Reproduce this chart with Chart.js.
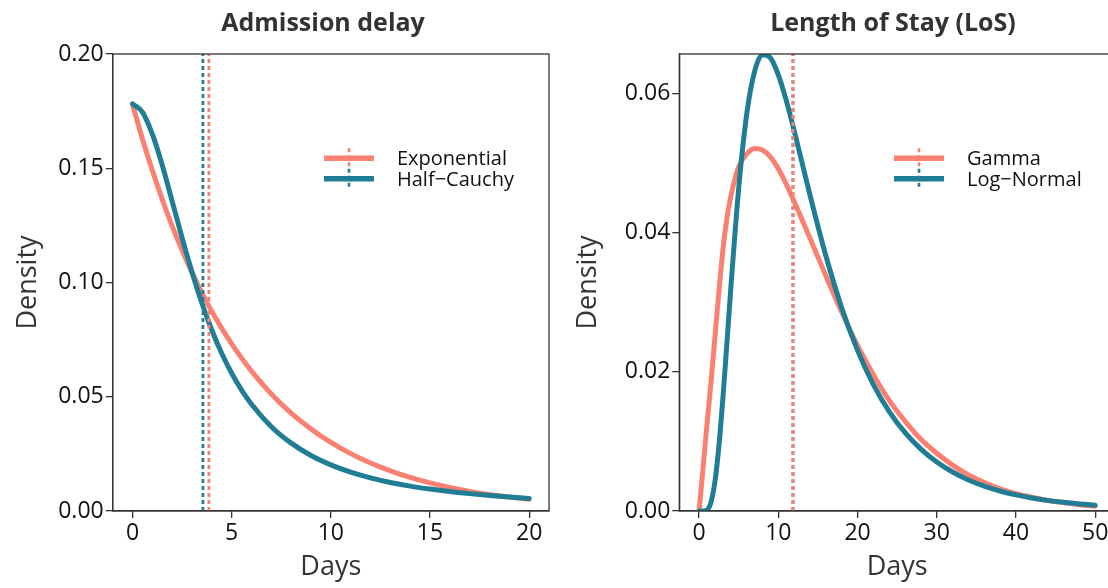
<!DOCTYPE html>
<html>
<head>
<meta charset="utf-8">
<script src="https://cdn.jsdelivr.net/npm/chart.js@4.4.0/dist/chart.umd.min.js"></script>
<style>
  html, body { margin: 0; padding: 0; background: #fff; overflow: hidden; width: 1108px; height: 588px; }
  .panel { position: absolute; top: 0; }
  #left { left: 0; }
  #right { left: 560px; }
</style>
</head>
<body>
<div class="panel" id="left"><canvas id="delayChart" width="560" height="588"></canvas></div>
<div class="panel" id="right"><canvas id="losChart" width="560" height="588"></canvas></div>
<script>
// admission delay panel
const delayDays = [0, 0.5, 1, 1.5, 2, 2.5, 3, 3.5, 4, 4.5, 5, 5.5, 6, 7, 8, 9, 10, 11, 12, 13, 14, 15, 16, 17, 18, 19, 20];
const exponential = [0.178, 0.1628, 0.149, 0.1363, 0.1247, 0.1141, 0.1043, 0.0955, 0.0873, 0.0799, 0.0731, 0.0669, 0.0612,
  0.0512, 0.0428, 0.0359, 0.030, 0.0251, 0.021, 0.0176, 0.0147, 0.0123, 0.0103, 0.0086, 0.0072, 0.0061, 0.0051];
const halfCauchy = [0.1782, 0.1746, 0.1649, 0.1513, 0.1355, 0.1195, 0.1045, 0.0909, 0.0791, 0.0689, 0.0603, 0.0529, 0.0467,
  0.0369, 0.0297, 0.0243, 0.0202, 0.017, 0.0145, 0.0125, 0.0109, 0.0096, 0.0085, 0.0076, 0.0068, 0.0061, 0.0055];
const delayMedians = [3.85, 3.55];   // exponential, half-cauchy
const delayXTicks = [0, 5, 10, 15, 20];
const delayYTicks = [0, 0.05, 0.10, 0.15, 0.20];

// length of stay panel
const losDays = [0, 0.5, 1, 1.5, 2, 2.5, 3, 3.5, 4, 5, 6, 7, 8, 9, 10, 11, 12, 14, 16, 18, 20, 22, 24, 26, 28, 30,
  32, 34, 36, 38, 40, 42, 44, 46, 48, 50];
const gamma = [0, 0.0062, 0.0125, 0.0185, 0.025, 0.0315, 0.0375, 0.042, 0.0452, 0.0495, 0.0513, 0.0521, 0.0519, 0.0509,
  0.0492, 0.047, 0.0445, 0.0392, 0.0338, 0.0286, 0.0238, 0.0196, 0.0159, 0.0129, 0.0103, 0.0083, 0.0066, 0.0052,
  0.0041, 0.0032, 0.0025, 0.002, 0.0015, 0.0012, 0.0009, 0.0007];
const logNormal = [0, 0, 0.00015, 0.00125, 0.00424, 0.00936, 0.01618, 0.02396, 0.03196, 0.04642, 0.05699, 0.06318,
  0.06559, 0.06513, 0.0627, 0.05903, 0.05468, 0.04541, 0.0367, 0.02922, 0.02309, 0.01818, 0.0143, 0.01127, 0.0089,
  0.00705, 0.0056, 0.00446, 0.00357, 0.00287, 0.00232, 0.00188, 0.00153, 0.00125, 0.00102, 0.00084];
const losMedians = [11.85, 11.85];   // gamma, log-normal
const losXTicks = [0, 10, 20, 30, 40, 50];
const losYTicks = [0, 0.02, 0.04, 0.06];

const PINK = '#fa8072';
const TEAL = '#1f7d95';
const FONT = "'Open Sans', 'DejaVu Sans', sans-serif";

const toPoints = (xs, ys) => xs.map((x, i) => ({ x: x, y: ys[i] }));

// draws the box, the panel title and the R-style legend
const panelDeco = {
  id: 'panelDeco',
  afterDraw(chart, args, opts) {
    const ctx = chart.ctx;
    const a = chart.chartArea;
    ctx.save();
    ctx.strokeStyle = '#333';
    ctx.lineWidth = 1.3;
    ctx.strokeRect(a.left, a.top, a.right - a.left, a.bottom - a.top);

    ctx.fillStyle = '#333';
    ctx.font = "bold 25px " + FONT;
    ctx.textAlign = 'center';
    ctx.textBaseline = 'alphabetic';
    ctx.fillText(opts.title, opts.titleX, 31);

    // legend
    const lx = opts.legendX, ly = opts.legendY;
    opts.labels.forEach((lab, i) => {
      const y = ly + i * 20.5;
      ctx.strokeStyle = opts.colors[i];
      ctx.lineWidth = 5.5;
      ctx.setLineDash([]);
      ctx.beginPath();
      ctx.moveTo(lx, y);
      ctx.lineTo(lx + 50, y);
      ctx.stroke();
      ctx.lineWidth = 2.6;
      ctx.setLineDash([4, 3]);
      ctx.beginPath();
      ctx.moveTo(lx + 25, y - 10);
      ctx.lineTo(lx + 25, y + 10);
      ctx.stroke();
      ctx.setLineDash([]);
      ctx.fillStyle = '#111';
      ctx.font = "20px " + FONT;
      ctx.textAlign = 'left';
      ctx.fillText(lab, lx + 73, y + 7);
    });
    ctx.restore();
  }
};

function makePanel(canvasId, p) {
  const dash = (m, color) => ({
    data: [{ x: m, y: 0 }, { x: m, y: p.yMax }],
    borderColor: color, borderWidth: 2.8, borderDash: [4, 3],
    pointRadius: 0, tension: 0
  });
  const curve = (ys, color, label) => ({
    label: label,
    data: toPoints(p.days, ys),
    borderColor: color, borderWidth: 5, pointRadius: 0,
    cubicInterpolationMode: 'monotone',
    borderCapStyle: 'round', borderJoinStyle: 'round'
  });
  const axisGrid = { display: true, drawOnChartArea: false, drawTicks: true, tickLength: 7, color: '#333', lineWidth: 1.3 };

  return new Chart(document.getElementById(canvasId), {
    type: 'line',
    data: {
      // first dataset is drawn on top
      datasets: [
        dash(p.medians[0], PINK),
        dash(p.medians[1], TEAL),
        curve(p.series[1], TEAL, p.labels[1]),
        curve(p.series[0], PINK, p.labels[0])
      ]
    },
    options: {
      responsive: false,
      animation: false,
      layout: { padding: { top: 54, right: p.padRight, left: 0, bottom: 0 } },
      plugins: {
        legend: { display: false },
        tooltip: { enabled: false },
        panelDeco: {
          title: p.title, titleX: p.titleX,
          legendX: p.legendX, legendY: 158.3,
          labels: p.labels, colors: [PINK, TEAL]
        }
      },
      scales: {
        x: {
          type: 'linear', min: p.xMin, max: p.xMax,
          afterBuildTicks: s => { s.ticks = p.xTicks.map(v => ({ value: v })); },
          afterFit: s => { s.height = 77; },
          grid: axisGrid,
          border: { display: true, color: '#333', width: 1.3 },
          ticks: { font: { family: FONT, size: 23 }, color: '#111', padding: 2, maxRotation: 0, autoSkip: false },
          title: { display: true, text: 'Days', font: { family: FONT, size: 27 }, color: '#333', padding: { top: 0, bottom: 4 } }
        },
        y: {
          type: 'linear', min: 0, max: p.yMax,
          afterBuildTicks: s => { s.ticks = p.yTicks.map(v => ({ value: v })); },
          afterFit: s => { s.width = p.yWidth; },
          grid: axisGrid,
          border: { display: true, color: '#333', width: 1.3 },
          ticks: { font: { family: FONT, size: 23 }, color: '#111', padding: 2, callback: v => v.toFixed(2) },
          title: { display: true, text: 'Density', font: { family: FONT, size: 27 }, color: '#333', padding: { top: 12, bottom: 0 } }
        }
      }
    },
    plugins: [panelDeco]
  });
}

makePanel('delayChart', {
  title: 'Admission delay', titleX: 323,
  days: delayDays, series: [exponential, halfCauchy], labels: ['Exponential', 'Half\u2212Cauchy'],
  medians: delayMedians, xTicks: delayXTicks, yTicks: delayYTicks,
  xMin: -1, xMax: 21, yMax: 0.2, yWidth: 112.7, padRight: 11, legendX: 324
});

makePanel('losChart', {
  title: 'Length of Stay (LoS)', titleX: 333,
  days: losDays, series: [gamma, logNormal], labels: ['Gamma', 'Log\u2212Normal'],
  medians: losMedians, xTicks: losXTicks, yTicks: losYTicks,
  xMin: -2.5, xMax: 52.5, yMax: 0.0657, yWidth: 119.3, padRight: 5, legendX: 334
});
</script>
</body>
</html>
